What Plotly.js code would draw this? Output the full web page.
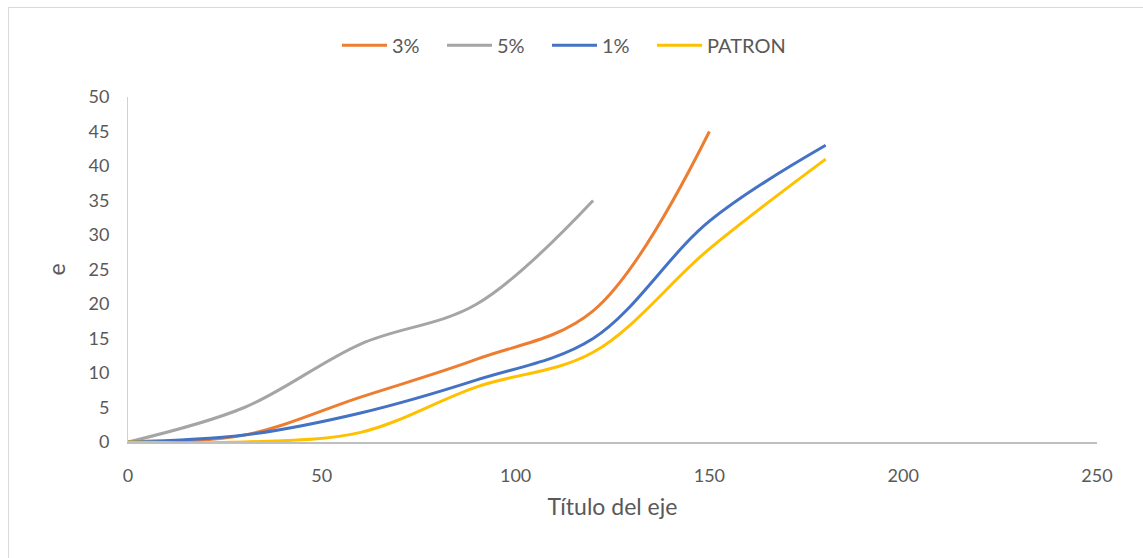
<!DOCTYPE html>
<html>
<head>
<meta charset="utf-8">
<script src="https://cdn.plot.ly/plotly-3.0.1.min.js"></script>
<style>
  html, body { margin: 0; padding: 0; background: #ffffff; overflow: hidden; }
  #chart { position: absolute; left: 8px; top: 7px; width: 1140px; height: 555px; border: 1px solid #d9d9d9; background: #fff; }
</style>
</head>
<body>
<div id="chart"></div>
<script>
// Data
const xValues = [0, 30, 60, 90, 120, 150, 180];
const series3 = [0, 1, 6.5, 12, 19, 45];
const series5 = [0, 5, 14.2, 20, 35];
const series1 = [0, 1, 4.2, 9, 15, 32, 43];
const seriesPatron = [0, 0, 1.4, 8, 13, 28, 41];
const seriesNames = ["3%", "5%", "1%", "PATRON"];
const xTicks = [0, 50, 100, 150, 200, 250];
const yTicks = [0, 5, 10, 15, 20, 25, 30, 35, 40, 45, 50];

const colors = ["#ED7D31", "#A5A5A5", "#4472C4", "#FFC000"];
const allSeries = [series3, series5, series1, seriesPatron];
const legendIds = ["legend", "legend", "legend", "legend2"];

const traces = allSeries.map((ys, i) => ({
  x: xValues.slice(0, ys.length),
  y: ys,
  name: seriesNames[i],
  legend: legendIds[i],
  type: "scatter",
  mode: "lines",
  line: { color: colors[i], width: 3, shape: "spline", smoothing: 1 },
  hoverinfo: "x+y+name"
}));

const font = "Lato, 'Open Sans', sans-serif";
const legendFont = { family: font, size: 20, color: "#595959" };

const layout = {
  width: 1140,
  height: 555,
  margin: { l: 119, r: 52, t: 89, b: 121 },
  paper_bgcolor: "#ffffff",
  plot_bgcolor: "#ffffff",
  font: { family: font, color: "#595959", size: 18 },
  showlegend: true,
  legend: {
    orientation: "h",
    x: 0.2157, xanchor: "left",
    y: 1.15, yanchor: "middle",
    font: legendFont,
    itemwidth: 45,
    entrywidth: 45,
    entrywidthmode: "pixels",
    tracegroupgap: 0
  },
  legend2: {
    orientation: "h",
    x: 0.5408, xanchor: "left",
    y: 1.15, yanchor: "middle",
    font: legendFont,
    itemwidth: 45,
    tracegroupgap: 0
  },
  xaxis: {
    range: [0, 250],
    tickvals: xTicks,
    ticktext: xTicks.map(String),
    showgrid: false,
    zeroline: false,
    showline: true,
    linecolor: "#bfbfbf",
    linewidth: 2,
    ticks: "",
    ticklabelstandoff: 16,
    tickfont: { family: font, size: 18, color: "#595959" },
    title: { text: "Título del eje", font: { family: font, size: 23, color: "#595959" }, standoff: 14 },
    fixedrange: true
  },
  yaxis: {
    range: [0, 50],
    tickvals: yTicks,
    ticktext: yTicks.map(String),
    showgrid: false,
    zeroline: false,
    showline: true,
    linecolor: "#d0d0d0",
    linewidth: 1,
    ticks: "",
    ticklabelstandoff: 14,
    tickfont: { family: font, size: 18, color: "#595959" },
    title: { text: "e", font: { family: font, size: 23, color: "#595959" }, standoff: 16 },
    fixedrange: true
  }
};

Plotly.newPlot("chart", traces, layout, { displayModeBar: false, staticPlot: false });
</script>
</body>
</html>
